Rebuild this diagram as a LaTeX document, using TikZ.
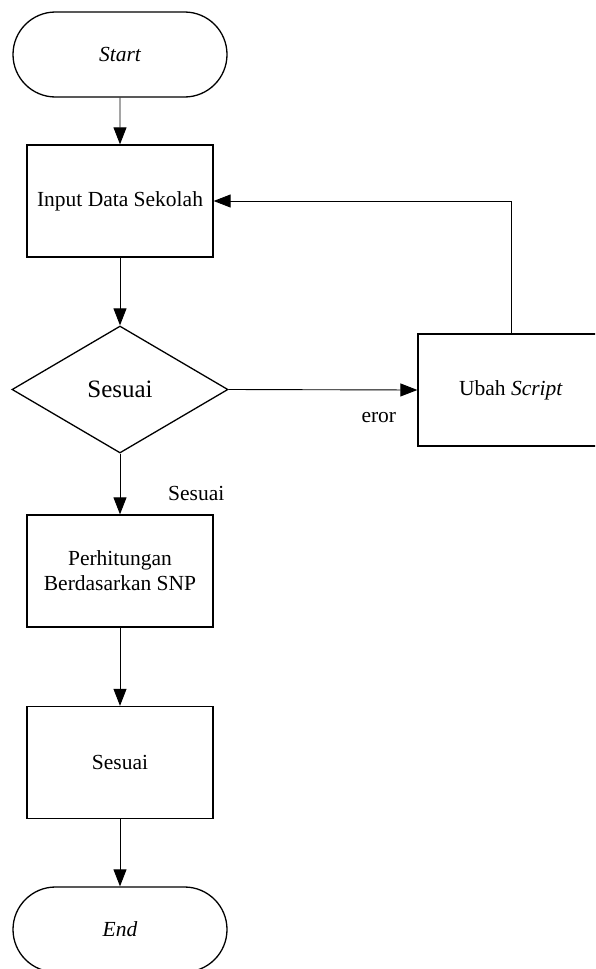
\documentclass[tikz,border=0pt]{standalone}
\usepackage{fontspec}
\setmainfont{Liberation Serif}
\usetikzlibrary{shapes.geometric,shapes.misc,arrows.meta}
\begin{document}
\begin{tikzpicture}[x=1pt,y=-1pt,
  term/.style={rounded rectangle, draw, line width=1.3pt, minimum width=214pt, minimum height=85pt, inner sep=0pt, font=\fontsize{21.5}{25}\selectfont\itshape},
  procbox/.style={rectangle, draw, line width=1.3pt, minimum width=186pt, minimum height=112pt, inner sep=0pt, align=center, font=\fontsize{21.5}{25}\selectfont},
  decbox/.style={diamond, draw, line width=1.3pt, minimum width=216pt, minimum height=127pt, inner sep=0pt, font=\fontsize{25}{30}\selectfont},
  arr/.style={line width=0.9pt, -{Triangle[length=17pt,width=13pt]}},
  lbl/.style={font=\fontsize{21.5}{25}\selectfont, inner sep=0pt}
]
\useasboundingbox (0,0) rectangle (595,969);
\clip (0,0) rectangle (595,969);

\node[term] (start) at (120,54.5) {Start};
\node[procbox] (input) at (120,201) {Input Data Sekolah};
\node[decbox] (dec) at (120,389.5) {Sesuai};
\node[procbox] (ubah) at (511,390) {Ubah \textit{Script}};
\node[procbox] (calc) at (120,571) {Perhitungan\\Berdasarkan SNP};
\node[procbox] (ses) at (120,762.5) {Sesuai};
\node[term] (end) at (120,929.5) {End};

\draw[arr] (start) -- (input);
\draw[arr] (input) -- (dec);
\draw[arr] (dec.east) -- (ubah.west);
\node[lbl, anchor=base east] (eror) at ([xshift=-21pt,yshift=-32pt]ubah.west) {eror};
\draw[arr] (ubah.north) |- (input.east);
\draw[arr] (dec.south) -- (calc.north);
\node[lbl, anchor=base west] (yes) at ([xshift=48pt,yshift=14pt]calc.north) {Sesuai};
\draw[arr] (calc) -- (ses);
\draw[arr] (ses) -- (end);
\end{tikzpicture}
\end{document}
